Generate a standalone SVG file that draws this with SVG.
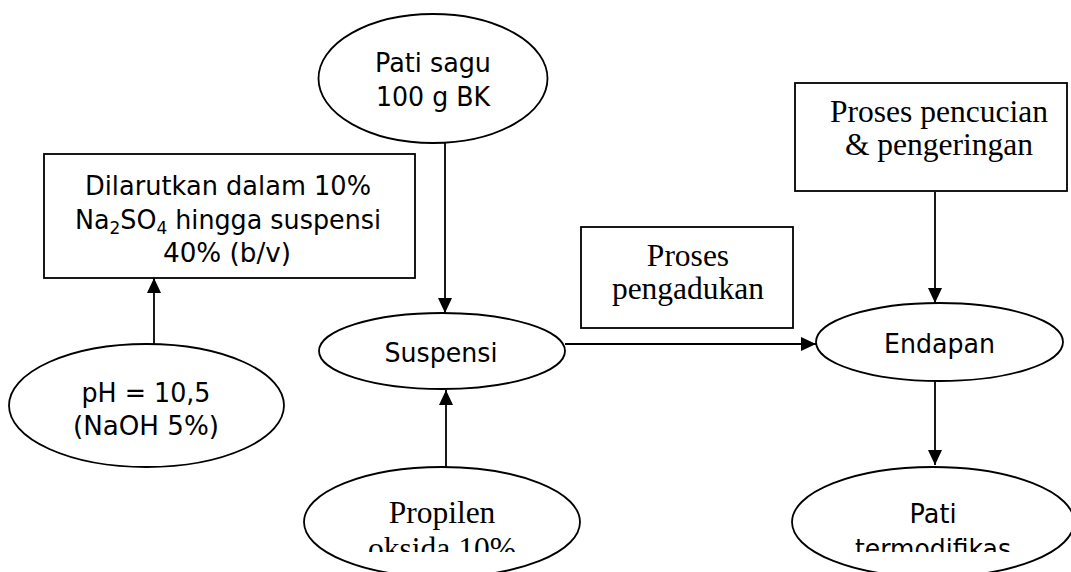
<svg xmlns="http://www.w3.org/2000/svg" width="1071" height="572" viewBox="0 0 1071 572">
<style>
.shape{fill:#fff;stroke:#000;stroke-width:1.8}
.sans{font-family:"DejaVu Sans","Liberation Sans",sans-serif;font-size:27px;fill:#000;text-anchor:middle}
.serif{font-family:"Liberation Serif","Times New Roman",serif;font-size:31.5px;fill:#000;text-anchor:middle}
.conn{fill:none;stroke:#000;stroke-width:1.8}
</style>
<defs>
<marker id="ah" markerWidth="15" markerHeight="14" refX="15" refY="7" orient="auto" markerUnits="userSpaceOnUse">
<path d="M0,0 L15,7 L0,14 Z" fill="#000"/>
</marker>
<clipPath id="cut"><rect x="0" y="0" width="1071" height="552"/></clipPath>
</defs>
<rect width="1071" height="572" fill="#fff"/>
<g id="connectors">
<path class="conn" d="M445,143 V313" marker-end="url(#ah)"/>
<path class="conn" d="M154,344 V278" marker-end="url(#ah)"/>
<path class="conn" d="M446,467 V390" marker-end="url(#ah)"/>
<path class="conn" d="M565,344 H816" marker-end="url(#ah)"/>
<path class="conn" d="M935,192 V303" marker-end="url(#ah)"/>
<path class="conn" d="M935,381 V465" marker-end="url(#ah)"/>
</g>
<g id="pati-sagu">
<ellipse class="shape" cx="433" cy="78.5" rx="114.5" ry="64.5"/>
<text class="sans" x="433" y="72" textLength="116" lengthAdjust="spacingAndGlyphs">Pati sagu</text>
<text class="sans" x="433" y="106" textLength="114" lengthAdjust="spacingAndGlyphs">100 g BK</text>
</g>
<g id="dilarutkan">
<rect class="shape" x="44" y="154" width="371" height="124"/>
<text class="sans" x="228" y="195" textLength="286" lengthAdjust="spacingAndGlyphs">Dilarutkan dalam 10%</text>
<text class="sans" x="228" y="229" textLength="306" lengthAdjust="spacingAndGlyphs">Na<tspan font-size="18" dy="5">2</tspan><tspan dy="-5">SO</tspan><tspan font-size="18" dy="5">4</tspan><tspan dy="-5"> hingga suspensi</tspan></text>
<text class="sans" x="227" y="262" textLength="128" lengthAdjust="spacingAndGlyphs">40% (b/v)</text>
</g>
<g id="ph">
<ellipse class="shape" cx="146.5" cy="405.5" rx="137.5" ry="61.5"/>
<text class="sans" x="146" y="402" textLength="129" lengthAdjust="spacingAndGlyphs">pH = 10,5</text>
<text class="sans" x="146" y="435" textLength="146" lengthAdjust="spacingAndGlyphs">(NaOH 5%)</text>
</g>
<g id="suspensi">
<ellipse class="shape" cx="442" cy="351" rx="123" ry="38"/>
<text class="sans" x="441" y="362" textLength="113" lengthAdjust="spacingAndGlyphs">Suspensi</text>
</g>
<g id="propilen">
<ellipse class="shape" cx="442" cy="522" rx="138" ry="55"/>
<g clip-path="url(#cut)">
<text class="serif" x="442" y="523">Propilen</text>
<text class="serif" x="442" y="559">oksida 10%</text>
</g>
</g>
<g id="pengadukan">
<rect class="shape" x="581" y="227" width="212" height="101"/>
<text class="serif" x="688" y="266">Proses</text>
<text class="serif" x="688" y="299">pengadukan</text>
</g>
<g id="pencucian">
<rect class="shape" x="795" y="83" width="272" height="108"/>
<text class="serif" x="939" y="122">Proses pencucian</text>
<text class="serif" x="939" y="155">&amp; pengeringan</text>
</g>
<g id="endapan">
<ellipse class="shape" cx="939.5" cy="342" rx="123.5" ry="39"/>
<text class="sans" x="939.5" y="353" textLength="111" lengthAdjust="spacingAndGlyphs">Endapan</text>
</g>
<g id="pati-termodifikasi">
<ellipse class="shape" cx="933" cy="522" rx="141" ry="55"/>
<g clip-path="url(#cut)">
<text class="sans" x="933" y="523" textLength="47" lengthAdjust="spacingAndGlyphs">Pati</text>
<text class="sans" x="933" y="558" textLength="156" lengthAdjust="spacingAndGlyphs">termodifikas</text>
</g>
</g>
</svg>
